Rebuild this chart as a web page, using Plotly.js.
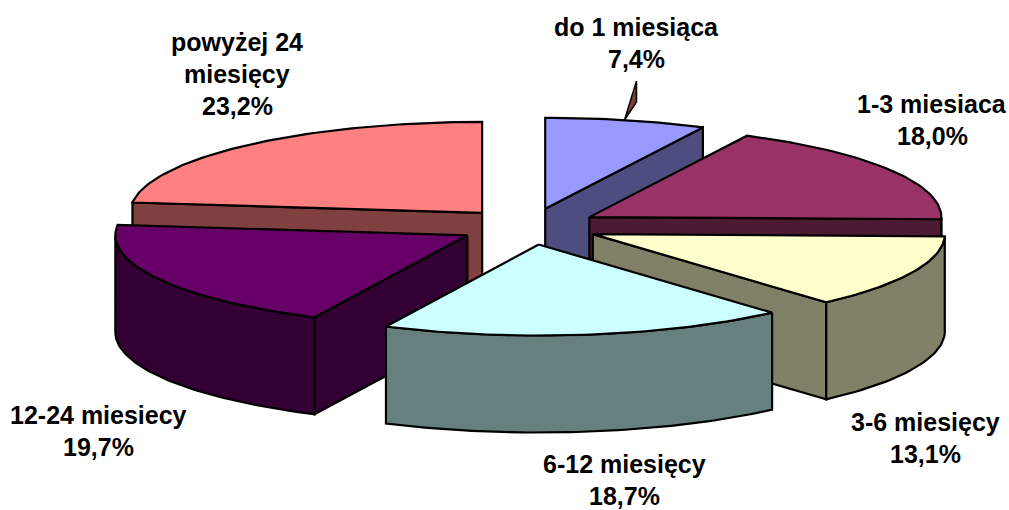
<!DOCTYPE html>
<html>
<head>
<meta charset="utf-8">
<script src="https://cdn.plot.ly/plotly-3.0.1.min.js"></script>
<style>html,body{margin:0;padding:0;background:#fff}#c{width:1009px;height:510px}</style>
</head>
<body>
<div id="c"></div>
<script>
// Data
const categories = ["do 1 miesiąca", "1-3 miesiaca", "3-6 miesięcy", "6-12 miesięcy", "12-24 miesiecy", "powyżej 24 miesięcy"];
const values = [7.4, 18.0, 13.1, 18.7, 19.7, 23.2];
const topColors = ["#9999FF", "#993366", "#FFFFCC", "#CCFFFF", "#660066", "#FF8080"];
const sideColors = ["#4D4D80", "#4D1A33", "#808066", "#668080", "#330033", "#804040"];
// Label lines (one array entry per text line), and their centres in page pixels
const labelLines = [["do 1 miesiąca"], ["1-3 miesiaca"], ["3-6 miesięcy"], ["6-12 miesięcy"], ["12-24 miesiecy"], ["powyżej 24", "miesięcy"]];
const labelX = [636, 932, 925, 624, 98, 237];
const labelTop = [27, 104, 422, 464, 415, 42];
const labelStep = 32;
// Pie geometry (page pixels per unit radius; ellipse + extrusion)
const RX = 352, RY = 91, CX = 529, CY = 226.5, DEPTH = 97 / 91, EXPLODE = 0.2;
const drawOrder = [5, 0, 1, 2, 4, 3];
const LW = 2.2;

const total = values.reduce((a, b) => a + b, 0);
const starts = []; let acc = 0;
values.forEach(v => { starts.push(acc / total * 2 * Math.PI); acc += v; });
const traces = [];
function poly(xs, ys, fill) {
  traces.push({type: "scatter", mode: "lines", x: xs, y: ys, fill: "toself", fillcolor: fill,
    line: {color: "#000", width: LW, shape: "linear"}, hoverinfo: "skip", showlegend: false});
}
function arc(a0, a1) {
  const n = Math.max(2, Math.ceil((a1 - a0) / 0.02)); const r = [];
  for (let i = 0; i <= n; i++) r.push(a0 + (a1 - a0) * i / n);
  return r;
}
drawOrder.forEach(i => {
  const a0 = starts[i], a1 = a0 + values[i] / total * 2 * Math.PI, mid = (a0 + a1) / 2;
  const ax = EXPLODE * Math.sin(mid), ay = EXPLODE * Math.cos(mid);
  const px = a => ax + Math.sin(a), py = a => ay + Math.cos(a);
  // radial side faces, only when they face the viewer
  [[a0, Math.sin(a0) < 0], [a1, Math.sin(a1) > 0]].forEach(([a, vis]) => {
    if (!vis) return;
    poly([ax, px(a), px(a), ax, ax], [ay, py(a), py(a) - DEPTH, ay - DEPTH, ay], sideColors[i]);
  });
  // outer wall, visible part of the rim
  const w0 = Math.max(a0, Math.PI / 2), w1 = Math.min(a1, 3 * Math.PI / 2);
  if (w1 > w0) {
    const t = arc(w0, w1);
    const xs = t.map(px), ys = t.map(py);
    poly(xs.concat(xs.slice().reverse(), [xs[0]]),
         ys.concat(ys.slice().reverse().map(y => y - DEPTH), [ys[0]]), sideColors[i]);
  }
  // top face
  const t = arc(a0, a1);
  poly([ax].concat(t.map(px), [ax]), [ay].concat(t.map(py), [ay]), topColors[i]);
});
// leader line of the first label (page pixels converted to the pie's units)
const toX = p => (p - CX) / RX, toY = p => (CY - p) / RY;
traces.push({type: "scatter", mode: "lines", x: [636.5, 636.5, 624.5, 636.5].map(toX), y: [81, 102, 120, 81].map(toY),
  fill: "toself", fillcolor: "#803D3D", line: {color: "#000", width: 1.5}, hoverinfo: "skip", showlegend: false});

const annotations = [];
categories.forEach((c, i) => {
  const lines = labelLines[i].concat([values[i].toFixed(1).replace(".", ",") + "%"]);
  lines.forEach((txt, k) => annotations.push({
    xref: "paper", yref: "paper", x: labelX[i] / 1009, y: 1 - (labelTop[i] + k * labelStep) / 510,
    xanchor: "center", yanchor: "middle", showarrow: false, text: txt,
    font: {family: "Liberation Sans", size: 25, color: "#000", weight: 700}
  }));
});

Plotly.newPlot("c", traces, {
  width: 1009, height: 510, margin: {l: 0, r: 0, t: 0, b: 0},
  paper_bgcolor: "#fff", plot_bgcolor: "#fff", showlegend: false,
  xaxis: {visible: false, range: [-CX / RX, (1009 - CX) / RX], fixedrange: true},
  yaxis: {visible: false, range: [(CY - 510) / RY, CY / RY], fixedrange: true},
  annotations: annotations
}, {displayModeBar: false, staticPlot: true});
</script>
</body>
</html>
